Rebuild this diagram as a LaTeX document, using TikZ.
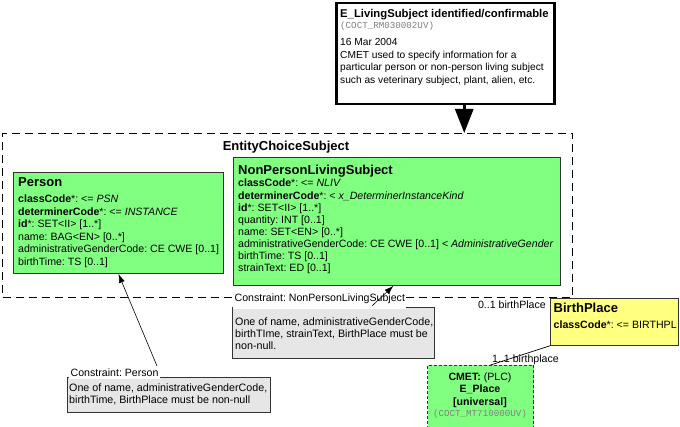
\documentclass[tikz,border=0pt]{standalone}
\usepackage{fontspec}
\setmainfont{Liberation Sans}
\setmonofont{Liberation Mono}
\usetikzlibrary{arrows.meta}
\definecolor{rimgreen}{HTML}{80FF80}
\definecolor{rimyellow}{HTML}{FFFF80}
\definecolor{notegray}{HTML}{E6E6E6}
\definecolor{edgegray}{HTML}{333333}
\definecolor{monogray}{HTML}{808080}
\frenchspacing
\begin{document}
\frenchspacing
\begin{tikzpicture}[x=1pt,y=-1pt,
  box/.style={draw=edgegray, line width=0.8pt, anchor=north west, inner sep=0pt},
  txt/.style={anchor=north west, inner sep=0pt, align=left},
  body/.style={font=\fontsize{10.6}{12.3}\selectfont},
  notebody/.style={font=\fontsize{10.7}{12}\selectfont},
  ttl/.style={font=\fontsize{13}{15}\selectfont\bfseries},
  mono/.style={font=\fontsize{9.2}{10}\ttfamily, text=monogray},
  notelabel/.style={fill=white, inner xsep=1.5pt, inner ysep=0pt, anchor=base west, font=\fontsize{10.6}{12}\selectfont},
  thinarrow/.style={line width=0.6pt, -{Latex[length=9pt,width=6pt]}},
  assoc/.style={font=\fontsize{10.6}{12}\selectfont, inner sep=0pt}
]
\useasboundingbox[fill=white] (0,0) rectangle (680,427);

% top CMET box
\node[box, draw=black, line width=2.5pt, fill=white, minimum width=218pt, minimum height=101pt] (top) at (335,2) {};
\node[txt, font=\fontsize{11.3}{13}\selectfont\bfseries] (toptitle) at (340,8.8) {E\_LivingSubject identified/confirmable};
\node[txt, mono] (topcode) at (340,21.3) {(COCT\_RM030002UV)};
\node[txt, font=\fontsize{10.2}{12.6}\selectfont] (topbody) at (340,38.2) {16 Mar 2004\\CMET used to specify information for a\\particular person or non-person living subject\\such as veterinary subject, plant, alien, etc.};

% choice box
\node[box, draw=black, line width=1pt, dash pattern=on 8pt off 5pt, minimum width=570pt, minimum height=164pt] (ecs) at (2,133) {};
\node[font=\fontsize{13}{15}\selectfont\bfseries, inner sep=0pt] (ecstitle) at (286,147) {EntityChoiceSubject};

\draw[line width=3pt, -{Triangle[width=18pt,length=24pt]}] ([xshift=19pt]top.south) -- ([xshift=19pt]top.south |- ecs.north);

% Person
\node[box, fill=rimgreen, minimum width=210pt, minimum height=101pt] (person) at (13,172) {};
\node[txt, ttl] (persontitle) at (18,177.2) {Person};
\node[txt, font=\fontsize{10.6}{12.6}\selectfont] (personbody) at (18,194.6) {\textbf{classCode}*: <= \textit{PSN}\\
\textbf{determinerCode}*: <= \textit{INSTANCE}\\
\textbf{id}*: SET<II> [1..*]\\
name: BAG<EN> [0..*]\\
administrativeGenderCode: CE CWE [0..1]\\
birthTime: TS [0..1]};

% NonPersonLivingSubject
\node[box, fill=rimgreen, minimum width=327pt, minimum height=128pt] (npls) at (233,157) {};
\node[txt, ttl] (nplstitle) at (238,165.2) {NonPersonLivingSubject};
\node[txt, font=\fontsize{10.6}{12.1}\selectfont] (nplsbody) at (238,179.1) {\textbf{classCode}*: <= \textit{NLIV}\\
\textbf{determinerCode}*: < \textit{x\_DeterminerInstanceKind}\\
\textbf{id}*: SET<II> [1..*]\\
quantity: INT [0..1]\\
name: SET<EN> [0..*]\\
administrativeGenderCode: CE CWE [0..1] < \textit{AdministrativeGender}\\
birthTime: TS [0..1]\\
strainText: ED [0..1]};

% Constraint NonPersonLivingSubject
\node[box, fill=notegray, minimum width=202pt, minimum height=51pt] (cnpls) at (232,307.5) {};
\node[notelabel, text depth=7pt] (cnplslabel) at (233,301.8) {Constraint: NonPersonLivingSubject};
\node[txt, notebody] (cnplsbody) at (235,317.5) {One of name, administrativeGenderCode,\\birthTIme, strainText, BirthPlace must be\\non-null.};
\coordinate (cnplsstart) at (372,306);
\draw[thinarrow] (cnplsstart) -- ([xshift=-3.5pt]npls.south);

% Constraint Person
\node[box, fill=notegray, minimum width=203pt, minimum height=35pt] (cperson) at (67,377) {};
\node[notelabel, text depth=2.5pt] (cpersonlabel) at (69,376.5) {Constraint: Person};
\node[txt, notebody] (cpersonbody) at (69,383.5) {One of name, administrativeGenderCode,\\birthTime, BirthPlace must be non-null};
\coordinate (cpersonstart) at (157,366);
\draw[thinarrow] (cpersonstart) -- (person.south);

% BirthPlace
\node[box, fill=rimyellow, minimum width=128pt, minimum height=47pt] (bp) at (550,298) {};
\node[txt, ttl] (bptitle) at (553.5,303.2) {BirthPlace};
\node[txt, body] (bpbody) at (553.5,320.2) {\textbf{classCode}*: <= BIRTHPL};
\node[assoc, anchor=base east] (bplabel) at (546,308.8) {0..1 birthPlace};

% CMET E_Place
\node[box, dash pattern=on 3pt off 2pt, line width=1pt, fill=rimgreen, minimum width=106pt, minimum height=62pt] (cmet) at (427,365) {};
\node[align=center, inner sep=0pt, font=\fontsize{10.6}{12.5}\selectfont, anchor=north] (cmettext) at (480,372.2) {\textbf{CMET:} (PLC)\\\textbf{E\_Place}\\\textbf{[universal]}};
\node[mono, inner sep=0pt, anchor=north] (cmetcode) at (480,410) {(COCT\_MT710000UV)};

\draw[line width=0.7pt] (bp.south west) -- ([xshift=10pt]cmet.north);
\node[assoc, anchor=base west] (cmetlabel) at (492,362.8) {1..1 birthplace};
\end{tikzpicture}
\end{document}
